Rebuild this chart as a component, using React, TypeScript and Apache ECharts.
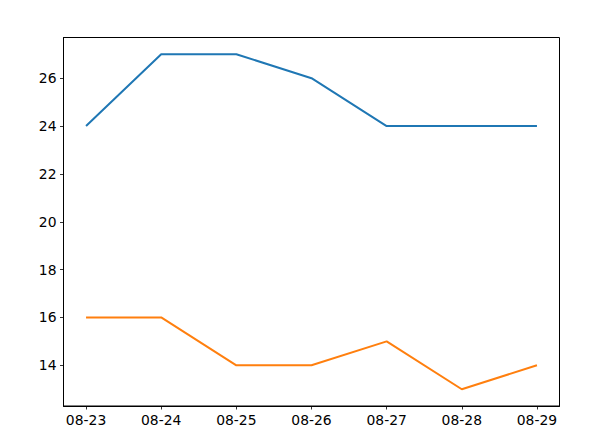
import React, { useEffect, useRef } from "react";
import * as echarts from "echarts";

const categories = ["08-23", "08-24", "08-25", "08-26", "08-27", "08-28", "08-29"];
const highTemps = [24, 27, 27, 26, 24, 24, 24];
const lowTemps = [16, 16, 14, 14, 15, 13, 14];
const yTicks = [14, 16, 18, 20, 22, 24, 26];

export default function App() {
  const ref = useRef<HTMLDivElement>(null);
  useEffect(() => {
    document.body.style.margin = "0";
    if (!ref.current) return;
    const chart = echarts.init(ref.current, null, { renderer: "svg" });
    const xIdx = categories.map((_, i) => i);
    const font = "DejaVu Sans";
    chart.setOption({
      animation: false,
      backgroundColor: "#ffffff",
      grid: {
        left: 63.5,
        right: 39.5,
        top: 37.5,
        bottom: 37,
        show: true,
        borderColor: "#000000",
        borderWidth: 1,
        backgroundColor: "transparent",
      },
      xAxis: {
        type: "value",
        min: -0.3,
        max: 6.3,
        splitLine: { show: false },
        axisLine: { show: true, onZero: false, lineStyle: { color: "#000", width: 1 } },
        axisTick: { show: true, length: 3.5, customValues: xIdx, lineStyle: { color: "#000", width: 0.8 } },
        axisLabel: {
          customValues: xIdx,
          margin: 7,
          color: "#000",
          fontFamily: font,
          fontSize: 13.9,
          formatter: (v: number) => categories[Math.round(v)] ?? "",
        },
      },
      yAxis: {
        type: "value",
        min: 12.3,
        max: 27.7,
        splitLine: { show: false },
        axisLine: { show: true, onZero: false, lineStyle: { color: "#000", width: 1 } },
        axisTick: { show: true, length: 3.5, customValues: yTicks, lineStyle: { color: "#000", width: 0.8 } },
        axisLabel: {
          customValues: yTicks,
          margin: 7,
          color: "#000",
          fontFamily: font,
          fontSize: 13.9,
        },
      },
      series: [
        {
          type: "line",
          data: highTemps.map((v, i) => [i, v]),
          showSymbol: false,
          lineStyle: { color: "#1f77b4", width: 2 },
          itemStyle: { color: "#1f77b4" },
        },
        {
          type: "line",
          data: lowTemps.map((v, i) => [i, v]),
          showSymbol: false,
          lineStyle: { color: "#ff7f0e", width: 2 },
          itemStyle: { color: "#ff7f0e" },
        },
      ],
    });
    return () => chart.dispose();
  }, []);
  return <div ref={ref} style={{ width: 599, height: 443 }} />;
}
